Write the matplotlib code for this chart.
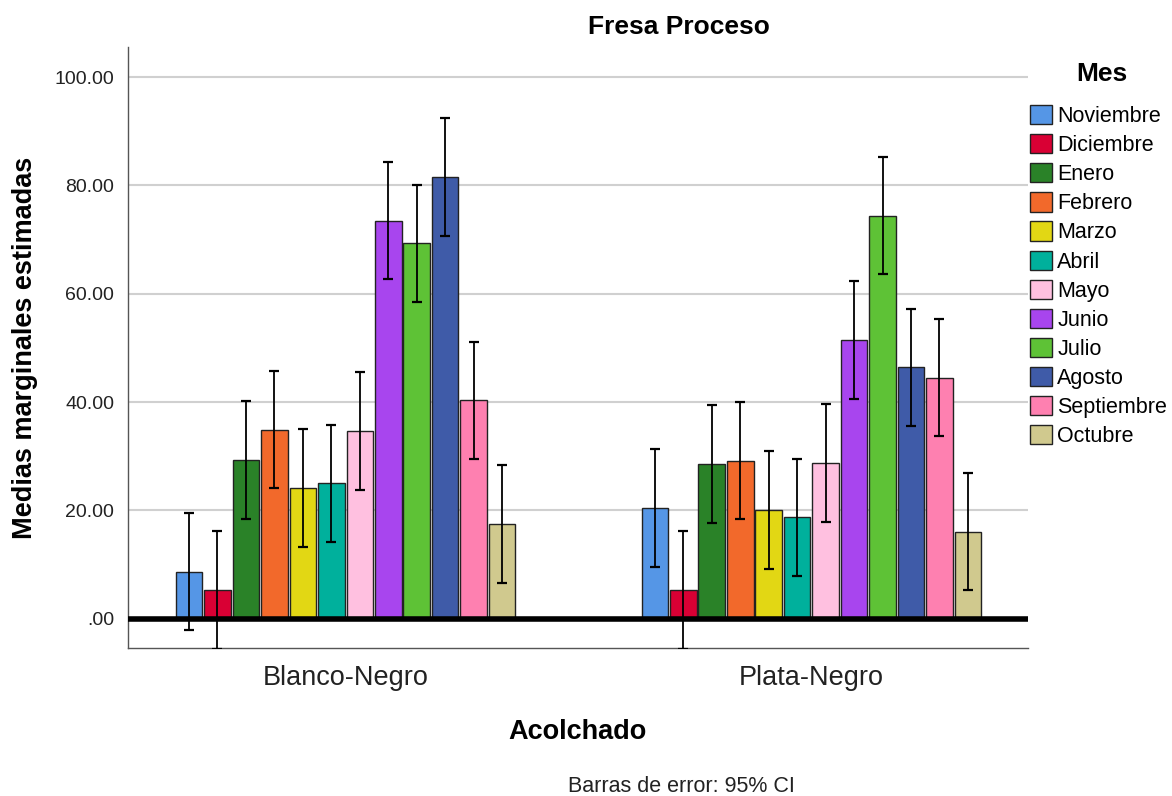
import matplotlib
matplotlib.use("Agg")
import matplotlib.pyplot as plt
import numpy as np
from matplotlib.patches import Patch

plt.rcParams['font.family'] = ['Liberation Sans', 'DejaVu Sans']

groups = ["Blanco-Negro", "Plata-Negro"]
months = ["Noviembre", "Diciembre", "Enero", "Febrero", "Marzo", "Abril",
          "Mayo", "Junio", "Julio", "Agosto", "Septiembre", "Octubre"]
colors = ["#5596e6", "#d90034", "#2a8228", "#f2692b", "#e2d714", "#00b09c",
          "#ffc0e0", "#a845ee", "#5ec236", "#3f5ba8", "#fe80b0", "#d0c98e"]

blanco = [8.7, 5.35, 29.3, 34.9, 24.1, 25.0, 34.7, 73.5, 69.3, 81.5, 40.3, 17.5]
plata = [20.4, 5.35, 28.6, 29.2, 20.1, 18.7, 28.8, 51.5, 74.4, 46.4, 44.5, 16.1]
ci_half = [10.85] * 12
yticks = [0, 20, 40, 60, 80, 100]
ytick_labels = [".00", "20.00", "40.00", "60.00", "80.00", "100.00"]

W, H = 1172, 796
fig = plt.figure(figsize=(W / 100, H / 100), dpi=100)
ax = fig.add_axes([128 / W, 1 - 648 / H, 900 / W, (648 - 46.7) / H])

pitch = 0.0611
width = 0.057
x = np.arange(len(groups))
for i, m in enumerate(months):
    vals = [blanco[i], plata[i]]
    pos = x + (i - 5.5) * pitch
    ax.bar(pos, vals, width=width, color=colors[i], edgecolor="#222222",
           linewidth=1.0, zorder=3)
    ax.errorbar(pos, vals, yerr=[ci_half[i]] * 2, fmt="none", ecolor="black",
                elinewidth=1.3, capsize=3.5, capthick=1.6, zorder=4)

ax.set_xlim(-0.467, 1.465)
ax.set_ylim(-5.4, 105.6)
ax.set_yticks(yticks)
ax.set_yticklabels(ytick_labels, fontsize=14, color="#222222")
ax.set_xticks(x)
ax.set_xticklabels(groups, fontsize=19.5, color="#222222")
ax.tick_params(axis="both", length=0)
ax.tick_params(axis="y", pad=10)
ax.tick_params(axis="x", pad=12)

ax.yaxis.grid(True, color="#d0d0d0", linewidth=1.5, zorder=0)
ax.set_axisbelow(True)
ax.axhline(0, color="black", linewidth=4, zorder=5)

for s in ["top", "right"]:
    ax.spines[s].set_visible(False)
for s in ["left", "bottom"]:
    ax.spines[s].set_color("#555555")
    ax.spines[s].set_linewidth(1.0)

ax.set_ylabel("Medias marginales estimadas", fontsize=19.5, fontweight="bold")
ax.yaxis.set_label_coords(-(128 - 25) / 900, (648 - 348) / (648 - 46.7))
ax.set_xlabel("Acolchado", fontsize=19.5, fontweight="bold")
ax.xaxis.set_label_coords((577 - 128) / 900, -(732 - 648) / (648 - 46.7))
ax.xaxis.label.set_va("center")
ax.yaxis.label.set_va("center")

fig.text(679 / W, 1 - 27 / H, "Fresa Proceso", ha="center", va="center",
         fontsize=19, fontweight="bold")
fig.text(681 / W, 1 - 786 / H, "Barras de error: 95% CI", ha="center",
         va="center", fontsize=15.5, color="#222222")

fig.text(1102 / W, 1 - 74 / H, "Mes", ha="center", va="center",
         fontsize=19, fontweight="bold")
handles = [Patch(facecolor=c, edgecolor="#222222", linewidth=1.0) for c in colors]
leg = fig.legend(handles, months, loc="upper left",
                 bbox_to_anchor=(1030 / W, 1 - 105 / H), frameon=False,
                 fontsize=15.5,
                 handlelength=1.02, handleheight=1.0, handletextpad=0.25,
                 labelspacing=0.33, borderaxespad=0, borderpad=0)

fig.savefig("out.png", dpi=100)
